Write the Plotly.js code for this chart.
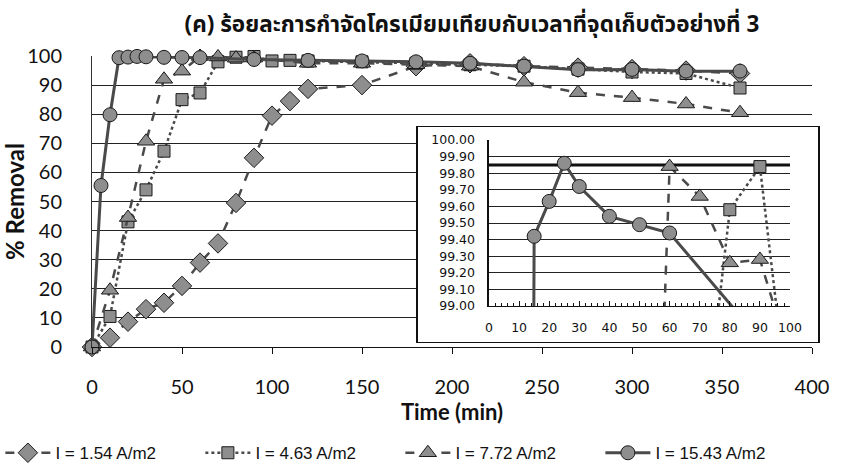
<!DOCTYPE html>
<html><head><meta charset="utf-8">
<script src="https://cdn.plot.ly/plotly-3.0.1.min.js"></script>
<style>body{margin:0;background:#fff}#chart{width:855px;height:470px}</style>
</head><body><div id="chart"></div>
<script>
// ---------- data ----------
const chartTitle = "(ค) ร้อยละการกำจัดโครเมียมเทียบกับเวลาที่จุดเก็บตัวอย่างที่ 3";
const xTitle = "Time (min)";
const yTitle = "% Removal";
const seriesNames = ["I = 1.54 A/m2", "I = 4.63 A/m2", "I = 7.72 A/m2", "I = 15.43 A/m2"];

const t154 = [0, 10, 20, 30, 40, 50, 60, 70, 80, 90, 100, 110, 120, 150, 180, 210, 240, 270, 300, 330, 360];
const r154 = [0, 3.2, 8.7, 13, 15.2, 21, 29, 35.6, 49.5, 65, 79.5, 84.5, 88.7, 90, 96.5, 97.5, 96.5, 96, 95.5, 95, 94];

const t463 = [0, 10, 20, 30, 40, 50, 60, 70, 80, 90, 100, 110, 120, 150, 180, 210, 240, 270, 300, 330, 360];
const r463 = [0, 10.5, 43, 54, 67.3, 85, 87.3, 98, 99.58, 99.84, 98.3, 98.5, 98.3, 98, 97.5, 97, 96.5, 95.5, 94.5, 94, 89];

const t772 = [0, 10, 20, 30, 40, 50, 60, 70, 80, 90, 120, 150, 180, 210, 240, 270, 300, 330, 360];
const r772 = [0, 19.5, 44.5, 70.7, 92, 94.8, 99.84, 99.66, 99.26, 99.28, 97.5, 97.5, 97, 96.5, 91, 87.4, 85.7, 83.5, 80.5];

const t1543 = [0, 5, 10, 15, 20, 25, 30, 40, 50, 60, 90, 120, 150, 180, 210, 240, 270, 300, 330, 360];
const r1543 = [0, 55.5, 79.8, 99.42, 99.63, 99.86, 99.72, 99.54, 99.49, 99.44, 98.8, 98.5, 98.3, 98, 97.5, 96.5, 95.3, 95.4, 94.8, 94.8];

const insetRefX = [0, 100];
const insetRefY = [99.85, 99.85];

const mainXTicks = [0, 50, 100, 150, 200, 250, 300, 350, 400];
const insetXTicks = [0, 10, 20, 30, 40, 50, 60, 70, 80, 90, 100];

// ---------- styles ----------
const fillGray = "#8e8e8e";
const edge = "#1a1a1a";
const lineGray = "#4a4a4a";
const styles = [
  {symbol: "diamond", size: 15, dash: "dash", width: 2.5},
  {symbol: "square", size: 12, dash: "dot", width: 2.5},
  {symbol: "triangle-up", size: 15, dash: "dash", width: 2.5},
  {symbol: "circle", size: 14, dash: "solid", width: 3}
];
const xs = [t154, t463, t772, t1543];
const ys = [r154, r463, r772, r1543];

const traces = [];
for (let i = 0; i < 4; i++) {
  traces.push({
    type: "scatter", mode: "lines+markers", name: seriesNames[i],
    x: xs[i], y: ys[i], xaxis: "x", yaxis: "y", cliponaxis: false,
    line: {color: lineGray, dash: styles[i].dash, width: styles[i].width},
    marker: {symbol: styles[i].symbol, size: styles[i].size, color: fillGray, line: {color: edge, width: 1}}
  });
}
// box subplot placeholder
traces.push({type: "scatter", x: [], y: [], xaxis: "x2", yaxis: "y2", showlegend: false, hoverinfo: "skip"});
// inset reference line
traces.push({type: "scatter", mode: "lines", x: insetRefX, y: insetRefY, xaxis: "x3", yaxis: "y3",
  showlegend: false, line: {color: "#111", width: 3}});
for (let i = 0; i < 4; i++) {
  traces.push({
    type: "scatter", mode: "lines+markers", name: seriesNames[i], showlegend: false,
    x: xs[i], y: ys[i], xaxis: "x3", yaxis: "y3",
    line: {color: lineGray, dash: styles[i].dash, width: styles[i].width},
    marker: {symbol: styles[i].symbol, size: styles[i].size, color: fillGray, line: {color: edge, width: 1}}
  });
}

const tickFont = {family: "Lato, 'Open Sans', sans-serif", size: 20, color: "#111"};
const insetFont = {family: "'DejaVu Sans', Verdana, sans-serif", size: 12.5, color: "#111"};

const layout = {
  width: 855, height: 470,
  margin: {l: 92, r: 30, t: 56, b: 123, autoexpand: false},
  paper_bgcolor: "#fff", plot_bgcolor: "#fff",
  showlegend: true,
  title: {text: chartTitle, x: 0.552, xanchor: "center", y: 0.948, yanchor: "middle",
    font: {family: "'Noto Sans Thai', Loma, Tahoma, 'Noto Sans', sans-serif", size: 22.5, color: "#111", weight: "bold"}},
  xaxis: {domain: [0, 0.9823], range: [0, 400], tickvals: mainXTicks, ticks: "outside", ticklen: 6,
    tickcolor: "#111", showline: true, linecolor: "#111", linewidth: 1.2, showgrid: false, zeroline: false,
    tickfont: tickFont, ticklabelstandoff: 16,
    title: {text: xTitle, font: {family: "Lato, sans-serif", size: 22, color: "#111", weight: "bold"}, standoff: 2}},
  yaxis: {range: [0, 100], dtick: 10, showgrid: true, gridcolor: "#222", gridwidth: 1.2, showline: true,
    linecolor: "#333", zeroline: false, ticks: "", tickfont: tickFont, ticklabelstandoff: 25,
    title: {text: yTitle, font: {family: "Lato, sans-serif", size: 24, color: "#111", weight: "bold"}, standoff: 2}},
  xaxis2: {domain: [0.4447, 0.9905], anchor: "y2", range: [0, 1], showline: true, mirror: true, linecolor: "#111",
    linewidth: 1.5, showgrid: false, zeroline: false, showticklabels: false, ticks: "", fixedrange: true},
  yaxis2: {domain: [0.0172, 0.756], anchor: "x2", range: [0, 1], showline: true, mirror: true, linecolor: "#111",
    linewidth: 1.5, showgrid: false, zeroline: false, showticklabels: false, ticks: "", fixedrange: true},
  xaxis3: {domain: [0.5416, 0.9523], anchor: "y3", range: [0, 100], tickvals: insetXTicks, showline: true,
    linecolor: "#111", linewidth: 1.5, ticks: "inside", ticklen: 5, tickcolor: "#111",
    minor: {ticks: "inside", dtick: 2, ticklen: 3, tickcolor: "#111"},
    showgrid: false, zeroline: false, tickfont: insetFont, ticklabelstandoff: 10},
  yaxis3: {domain: [0.1409, 0.7113], anchor: "x3", range: [99, 100], dtick: 0.1, tickformat: ".2f",
    showgrid: true, gridcolor: "#222", gridwidth: 1, showline: true, linecolor: "#111", linewidth: 1.5,
    zeroline: false, ticks: "", tickfont: insetFont, ticklabelstandoff: 10},
  legend: {orientation: "h", x: -0.125, xanchor: "left", y: -0.365, yanchor: "middle",
    font: {family: "'Liberation Sans', Arial, sans-serif", size: 17, color: "#111"},
    itemwidth: 45, entrywidth: 140, entrywidthmode: "pixels", traceorder: "normal", bgcolor: "rgba(0,0,0,0)"}
};

Plotly.newPlot("chart", traces, layout, {displayModeBar: false, staticPlot: true});
</script>
</body></html>
